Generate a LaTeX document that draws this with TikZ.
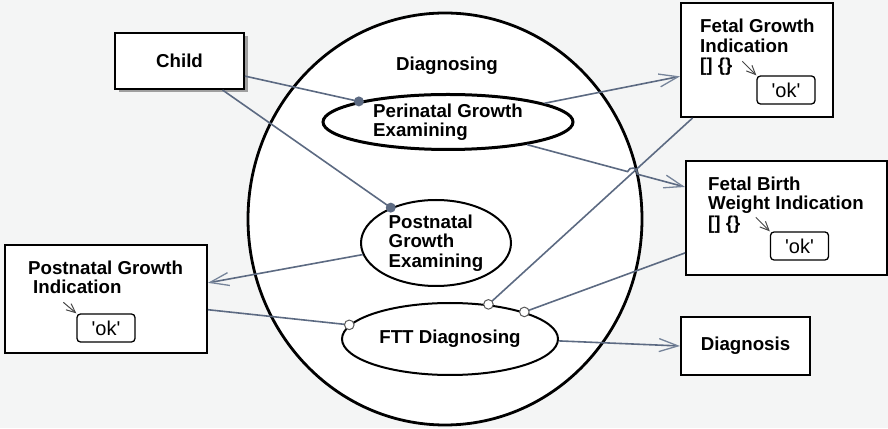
\documentclass[tikz,border=0pt]{standalone}
\usepackage{fontspec}
\setmainfont{Liberation Sans}
\newfontfamily\okfont{Liberation Sans}[Ligatures=TeXOff]
\usetikzlibrary{arrows.meta,shapes.geometric,calc,intersections,shadows}

\definecolor{bgc}{RGB}{244,245,245}
\definecolor{linkc}{RGB}{92,106,130}
\definecolor{headc}{RGB}{118,132,154}
\definecolor{okc}{RGB}{70,70,70}

\begin{document}
\begin{tikzpicture}[x=1pt,y=1pt,
  lbl/.style={font=\fontsize{18.7}{19.5}\selectfont\bfseries},
  box/.style={draw=black, line width=2pt, fill=white, inner sep=0pt, lbl},
  usecase/.style={ellipse, draw=black, line width=2pt, fill=white, inner sep=0pt, lbl, align=left},
  okbox/.style={draw=black, line width=1.3pt, rounded corners=3.5pt, fill=white,
    minimum width=58pt, minimum height=28pt, inner sep=0pt,
    font=\okfont\fontsize{20}{21}\selectfont},
  conn/.style={draw=linkc, line width=1.6pt},
  flow/.style={conn, -{Straight Barb[length=19pt,width=13pt,line width=1.3pt,color=headc]}},
  okarrow/.style={draw=okc, line width=1pt, -{Straight Barb[length=9pt,width=8pt,line width=1pt]}},
  dot/.style={fill=linkc},
  port/.style={draw=gray!70!black, line width=1pt, fill=white}
]
\fill[bgc] (0,0) rectangle (888,428);
\useasboundingbox (0,0) rectangle (888,428);

% system boundary
\node[ellipse, draw=black, line width=2.8pt, fill=white, minimum width=394pt, minimum height=412pt, inner sep=0pt] (sys) at (445,209) {};
\node[lbl] (systitle) at (447,362) {Diagnosing};

% use cases
\node[usecase, line width=3pt, minimum width=250pt, minimum height=55pt] (peri) at (448,306) {Perinatal Growth\\Examining};
\node[usecase, minimum width=150pt, minimum height=86pt] (post) at (436,185) {Postnatal\\Growth\\Examining};
\node[usecase, minimum width=216pt, minimum height=72pt] (ftt) at (450,89) {FTT Diagnosing};

% actors and data objects
\node[box, minimum width=129pt, minimum height=56pt,
  drop shadow={shadow xshift=3.5pt, shadow yshift=-3.5pt, fill=gray!75, opacity=1}] (child) at (179.5,367) {Child};
\node[box, minimum width=152pt, minimum height=114pt] (fgi) at (757,368) {};
\node[box, minimum width=201pt, minimum height=114pt] (fbw) at (786.5,210) {};
\node[box, minimum width=202pt, minimum height=108pt] (pgi) at (106,129) {};
\node[box, minimum width=129pt, minimum height=58pt] (diagn) at (745.5,82) {Diagnosis};

\node[lbl, anchor=north west, inner sep=0pt, align=left] (fgitext) at (700,409) {Fetal Growth\\Indication\\{}[]\ \{\}};
\node[lbl, anchor=north west, inner sep=0pt, align=left] (fbwtext) at (708,251.5) {Fetal Birth\\Weight Indication\\{}[]\ \{\}};
\node[lbl, anchor=north west, inner sep=0pt, align=left] (pgitext) at (28,167.5) {Postnatal Growth\\\hspace*{5pt}Indication};

% value states
\node[okbox] (okA) at (786,338) {'ok'};
\node[okbox] (okB) at (799.5,182) {'ok'};
\node[okbox] (okC) at (106,100) {'ok'};
\coordinate (okAsrc) at ($(okA.north west)+(-14,14)$);
\coordinate (okBsrc) at ($(okB.north west)+(-14,14)$);
\coordinate (okCsrc) at ($(okC.north west)+(-13,11)$);
\draw[okarrow] (okAsrc) -- (okA.north west);
\draw[okarrow] (okBsrc) -- (okB.north west);
\draw[okarrow] (okCsrc) -- (okC.north west);

% connectors
\draw[conn] (child.-13) -- (peri.167);
\draw[conn] (child.-34.7) -- (post.142);
\draw[flow] (peri.11.6) -- (fgi.192.6);
\draw[flow] (post.189.3) -- (pgi.9.6);
\draw[conn] (pgi.-6.8) -- (ftt.172.9);
\draw[conn, name path=fgline] (ftt.42) -- (fgi.222.6);
\draw[conn] (fbw.199.7) -- (ftt.20.1);
\draw[flow] (ftt.-1) -- (diagn.west);

% line hop where the birth-weight flow crosses
\path[name path=pbline] (peri.-16.2) -- (fbw.163.9);
\path[name intersections={of=fgline and pbline, by=hop}];
\draw[flow] let \p1=($(peri.-16.2)-(hop)$), \n1={atan2(\y1,\x1)} in
  (peri.-16.2) -- ($(hop)!5pt!(peri.-16.2)$) arc[start angle=\n1, delta angle=-180, radius=5pt] -- (fbw.163.9);

% connector ends
\fill[dot] (peri.167) circle (5pt);
\fill[dot] (post.142) circle (5pt);
\draw[port] (ftt.172.9) circle (4.8pt);
\draw[port] (ftt.42) circle (4.8pt);
\draw[port] (ftt.20.1) circle (4.8pt);
\end{tikzpicture}
\end{document}
